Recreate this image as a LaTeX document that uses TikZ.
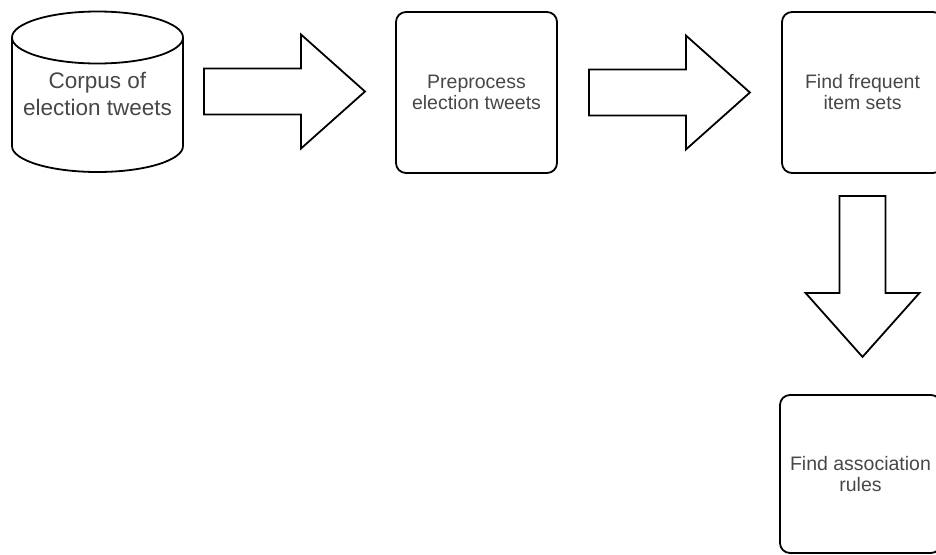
\documentclass[tikz,border=0pt]{standalone}
\usepackage{fontspec}
\setmainfont{Liberation Sans}
\usetikzlibrary{calc}
\colorlet{textgray}{black!72}
\tikzset{
  outline/.style = {draw, line width=1.8pt},
  stepbox/.style = {outline, rounded corners=10pt,
    minimum width=161pt, minimum height=161pt, align=center,
    text=textgray, font=\fontsize{19.5}{21}\selectfont},
  storetext/.style = {align=center, text=textgray,
    font=\fontsize{22.5}{27}\selectfont},
  blockarrow/.pic = {
    \draw[outline, line join=miter]
      (0,-23) -- (97,-23) -- (97,-57) -- (161,0) -- (97,57) -- (97,23)
      -- (0,23) -- cycle;
  }
}

\begin{document}
\begin{tikzpicture}[x=1pt,y=-1pt]
  \useasboundingbox (0,0) rectangle (936,554);
  % data store
  \draw[outline] (12,37.5) -- (12,146)
    arc[start angle=180, end angle=0, x radius=85.5, y radius=26] -- (183,37.5);
  \draw[outline] (97.5,37.5) ellipse [x radius=85.5, y radius=26];
  \coordinate (store) at (183,91.5);
  \node[storetext] (corpus) at (97.5,93.5) {Corpus of\\election tweets};

  \node[stepbox] (prep) at (476.5,92.5) {Preprocess\\election tweets};
  \node[stepbox] (freq) at (862.5,92.5) {Find frequent\\item sets};
  \node[stepbox, minimum height=158pt] (rules) at (860.5,474) {Find association\\rules};

  \path (store) ++(21,0) pic {blockarrow};
  \path (prep.east) ++(31,0) pic {blockarrow};
  \path (freq.south) ++(0,22) pic[rotate=-90] {blockarrow};
\end{tikzpicture}
\end{document}
